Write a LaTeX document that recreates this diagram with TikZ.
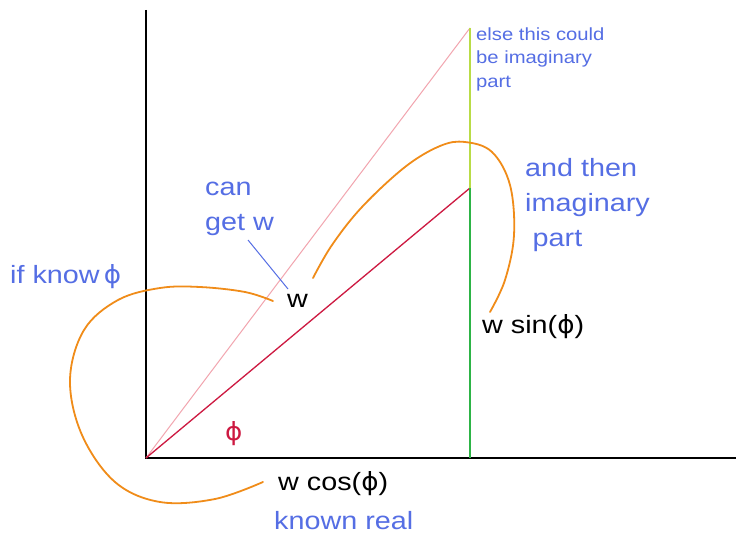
\documentclass[tikz,border=0pt]{standalone}
\usepackage{fontspec}
\setmainfont[FakeStretch=1.15]{Liberation Sans}
\newfontfamily\phifont[FakeStretch=1.05]{DejaVu Sans}
\begin{document}
\begin{tikzpicture}[x=1pt,y=-1pt,
  bluetext/.style={text=labelblue, inner sep=0pt, anchor=base west, align=left},
  blacktext/.style={text=black, inner sep=0pt, anchor=base west},
  bigfont/.style={font=\fontsize{25}{35}\selectfont},
  smallfont/.style={font=\fontsize{17.6}{23.3}\selectfont},
  axis/.style={draw=black, line width=2pt},
  curly/.style={draw=curveorange, line width=1.8pt, line cap=round}]
\definecolor{labelblue}{RGB}{85,110,228}
\definecolor{curveorange}{RGB}{240,140,25}
\definecolor{vecred}{RGB}{205,25,65}
\definecolor{vecpink}{RGB}{242,165,175}
\definecolor{imggreen}{RGB}{45,180,70}
\definecolor{imgyellow}{RGB}{185,220,70}
\useasboundingbox (0,0) rectangle (736,535);
\fill[white] (0,0) rectangle (736,535);
% key points
\coordinate (O) at (146,458);
\coordinate (Ytop) at (146,10);
\coordinate (Xend) at (736,458);
\coordinate (P) at (470,188);
\coordinate (Q) at (470,28);
\coordinate (F) at (470,458);
% axes
\draw[axis] (Ytop) -- (O) -- (Xend);
% vectors
\draw[draw=vecpink, line width=1pt] (O) -- (Q);
\draw[draw=vecred, line width=1.3pt] (O) -- (P);
\draw[draw=imgyellow, line width=1.8pt] (Q) -- (P);
\draw[draw=imggreen, line width=1.8pt] (P) -- (F);
% labels (base anchor = baseline of last line)
\node[bluetext, smallfont] (else) at (476,87) {else this could\\be imaginary\\part};
\node[bluetext, bigfont] (andthen) at (525,246) {and then\\imaginary\\\hspace{0.3em}part};
\node[bluetext, bigfont] (canget) at (205,230) {can\\get w};
\node[bluetext, bigfont] (ifknow) at (10,283) {if know\,{\phifont ϕ}};
\node[blacktext, bigfont] (w) at (287,307) {w};
\node[blacktext, bigfont] (wsin) at (482,333) {w sin({\phifont ϕ})};
\node[blacktext, bigfont] (wcos) at (278,490) {w cos({\phifont ϕ})};
\node[bluetext, bigfont] (known) at (274,529) {known real};
\node[text=vecred, inner sep=0pt, anchor=base west, bigfont] (phi) at (225,440) {\phifont ϕ};
% connector from "can get w" to w
\coordinate (cgEnd) at (248,240);
\coordinate (wTop) at (288,289);
\draw[draw=labelblue, line width=1pt] (cgEnd) -- (wTop);
% orange curves
\draw[curly] plot[smooth, tension=0.6] coordinates {(273,301) (245,292) (200,287) (160,288) (118,300) (84,330) (70,380) (82,435) (115,482) (160,502) (215,499) (263,482)};
\draw[curly] plot[smooth, tension=0.6] coordinates {(313,278) (332,245) (362,207) (405,167) (440,146) (465,142) (492,152) (510,185) (514,235) (505,280) (490,312)};
\end{tikzpicture}
\end{document}
